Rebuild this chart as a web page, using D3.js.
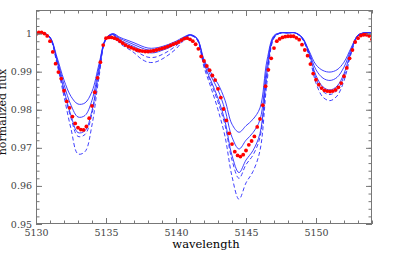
<!DOCTYPE html>
<html>
<head>
<meta charset="utf-8">
<script src="https://cdn.jsdelivr.net/npm/d3@7"></script>
<style>
  body { margin: 0; background: #fff; }
  svg { display: block; font-family: "DejaVu Serif", serif; }
</style>
</head>
<body>
<svg id="chart" width="407" height="262"></svg>
<script>
// model grid (Angstrom)
var modelWave = [5130.0, 5130.5, 5131.0, 5131.5, 5132.0, 5132.5, 5133.0, 5133.5, 5134.0, 5134.5,
                 5135.0, 5135.5, 5136.0, 5136.5, 5137.0, 5137.5, 5138.0, 5138.5, 5139.0, 5139.5,
                 5140.0, 5140.5, 5141.0, 5141.5, 5142.0, 5142.5, 5143.0, 5143.5, 5144.0, 5144.5,
                 5145.0, 5145.5, 5146.0, 5146.5, 5147.0, 5147.5, 5148.0, 5148.5, 5149.0, 5149.5,
                 5150.0, 5150.5, 5151.0, 5151.5, 5152.0, 5152.5, 5153.0, 5153.5, 5154.0];

// synthetic spectra, solid
var fluxS1 = [1.0002, 1.0002, 0.9991, 0.9938, 0.9878, 0.9835, 0.9815, 0.9818, 0.9848, 0.9920,
              0.9988, 1.0000, 0.9990, 0.9983, 0.9976, 0.9968, 0.9962, 0.9962, 0.9966, 0.9972,
              0.9980, 0.9990, 0.9997, 0.9988, 0.9932, 0.9897, 0.9868, 0.9825, 0.9762, 0.9741,
              0.9758, 0.9775, 0.9805, 0.9930, 0.9995, 1.0002, 1.0002, 1.0002, 0.9991, 0.9955,
              0.9918, 0.9903, 0.9899, 0.9905, 0.9925, 0.9962, 0.9996, 1.0002, 1.0002];
var fluxS2 = [1.0002, 1.0002, 0.9990, 0.9933, 0.9866, 0.9812, 0.9781, 0.9785, 0.9825, 0.9912,
              0.9987, 0.9999, 0.9987, 0.9979, 0.9971, 0.9963, 0.9957, 0.9957, 0.9962, 0.9968,
              0.9977, 0.9988, 0.9997, 0.9987, 0.9928, 0.9888, 0.9852, 0.9800, 0.9728, 0.9697,
              0.9720, 0.9740, 0.9774, 0.9915, 0.9993, 1.0002, 1.0002, 1.0002, 0.9990, 0.9952,
              0.9905, 0.9883, 0.9877, 0.9885, 0.9912, 0.9958, 0.9996, 1.0002, 1.0002];
var fluxS3 = [1.0002, 1.0002, 0.9989, 0.9928, 0.9852, 0.9785, 0.9740, 0.9745, 0.9798, 0.9902,
              0.9986, 0.9998, 0.9983, 0.9974, 0.9966, 0.9957, 0.9950, 0.9950, 0.9956, 0.9963,
              0.9973, 0.9986, 0.9996, 0.9986, 0.9922, 0.9876, 0.9830, 0.9770, 0.9680, 0.9635,
              0.9668, 0.9693, 0.9738, 0.9898, 0.9991, 1.0002, 1.0002, 1.0002, 0.9989, 0.9948,
              0.9890, 0.9860, 0.9852, 0.9862, 0.9895, 0.9952, 0.9995, 1.0002, 1.0002];
// synthetic spectra, dashed
var fluxD1 = [1.0002, 1.0002, 0.9989, 0.9926, 0.9848, 0.9778, 0.9730, 0.9735, 0.9790, 0.9898,
              0.9985, 0.9997, 0.9979, 0.9968, 0.9958, 0.9946, 0.9938, 0.9938, 0.9945, 0.9955,
              0.9968, 0.9983, 0.9996, 0.9985, 0.9918, 0.9870, 0.9820, 0.9760, 0.9668, 0.9620,
              0.9656, 0.9681, 0.9728, 0.9890, 0.9990, 1.0002, 1.0002, 1.0002, 0.9988, 0.9946,
              0.9882, 0.9848, 0.9840, 0.9851, 0.9888, 0.9950, 0.9995, 1.0002, 1.0002];
var fluxD2 = [1.0002, 1.0002, 0.9988, 0.9920, 0.9835, 0.9750, 0.9684, 0.9690, 0.9760, 0.9886,
              0.9984, 0.9996, 0.9974, 0.9962, 0.9950, 0.9934, 0.9925, 0.9925, 0.9933, 0.9945,
              0.9960, 0.9980, 0.9995, 0.9984, 0.9912, 0.9858, 0.9800, 0.9730, 0.9625, 0.9565,
              0.9608, 0.9638, 0.9693, 0.9872, 0.9988, 1.0002, 1.0002, 1.0002, 0.9987, 0.9942,
              0.9870, 0.9833, 0.9824, 0.9836, 0.9876, 0.9946, 0.9995, 1.0002, 1.0002];

// observed spectrum (red dots)
var obsWave = [5130.0, 5130.2, 5130.4, 5130.6, 5130.8, 5131.0, 5131.2, 5131.4, 5131.6, 5131.8,
               5132.0, 5132.2, 5132.4, 5132.6, 5132.8, 5133.0, 5133.2, 5133.4, 5133.6, 5133.8,
               5134.0, 5134.2, 5134.4, 5134.6, 5134.8, 5135.0, 5135.2, 5135.4, 5135.6, 5135.8,
               5136.0, 5136.2, 5136.4, 5136.6, 5136.8, 5137.0, 5137.2, 5137.4, 5137.6, 5137.8,
               5138.0, 5138.2, 5138.4, 5138.6, 5138.8, 5139.0, 5139.2, 5139.4, 5139.6, 5139.8,
               5140.0, 5140.2, 5140.4, 5140.6, 5140.8, 5141.0, 5141.2, 5141.4, 5141.6, 5141.8,
               5142.0, 5142.2, 5142.4, 5142.6, 5142.8, 5143.0, 5143.2, 5143.4, 5143.6, 5143.8,
               5144.0, 5144.2, 5144.4, 5144.6, 5144.8, 5145.0, 5145.2, 5145.4, 5145.6, 5145.8,
               5146.0, 5146.2, 5146.4, 5146.6, 5146.8, 5147.0, 5147.2, 5147.4, 5147.6, 5147.8,
               5148.0, 5148.2, 5148.4, 5148.6, 5148.8, 5149.0, 5149.2, 5149.4, 5149.6, 5149.8,
               5150.0, 5150.2, 5150.4, 5150.6, 5150.8, 5151.0, 5151.2, 5151.4, 5151.6, 5151.8,
               5152.0, 5152.2, 5152.4, 5152.6, 5152.8, 5153.0, 5153.2, 5153.4, 5153.6, 5153.8,
               5154.0];
var obsFlux = [0.9998, 1.0003, 1.0003, 1.0000, 0.9994, 0.9980, 0.9952, 0.9921, 0.9899, 0.9882,
               0.9850, 0.9822, 0.9805, 0.9782, 0.9764, 0.9753, 0.9748, 0.9747, 0.9756, 0.9778,
               0.9810, 0.9846, 0.9884, 0.9925, 0.9970, 0.9988, 0.9990, 0.9990, 0.9988, 0.9985,
               0.9980, 0.9975, 0.9970, 0.9966, 0.9963, 0.9960, 0.9957, 0.9955, 0.9954, 0.9953,
               0.9953, 0.9954, 0.9955, 0.9957, 0.9959, 0.9961, 0.9963, 0.9966, 0.9969, 0.9972,
               0.9975, 0.9978, 0.9983, 0.9987, 0.9988, 0.9985, 0.9980, 0.9972, 0.9960, 0.9940,
               0.9928, 0.9915, 0.9904, 0.9890, 0.9878, 0.9855, 0.9832, 0.9802, 0.9772, 0.9738,
               0.9710, 0.9690, 0.9680, 0.9677, 0.9682, 0.9693, 0.9708, 0.9718, 0.9730, 0.9755,
               0.9776, 0.9812, 0.9862, 0.9905, 0.9935, 0.9962, 0.9980, 0.9986, 0.9990, 0.9992,
               0.9993, 0.9993, 0.9993, 0.9989, 0.9984, 0.9971, 0.9957, 0.9942, 0.9920, 0.9895,
               0.9879, 0.9866, 0.9857, 0.9851, 0.9849, 0.9848, 0.9849, 0.9852, 0.9859, 0.9870,
               0.9888, 0.9910, 0.9935, 0.9957, 0.9978, 0.9988, 0.9995, 0.9997, 0.9997, 0.9994,
               0.9985];

var xMajor = [5130, 5135, 5140, 5145, 5150];
var yMajor = [0.95, 0.96, 0.97, 0.98, 0.99, 1];

var mLeft = 36, mRight = 372, mTop = 10, mBottom = 224;

var x = d3.scaleLinear().domain([5130, 5154]).range([mLeft, mRight]);
var y = d3.scaleLinear().domain([0.95, 1.0062]).range([mBottom, mTop]);

var svg = d3.select("#chart");

svg.append("clipPath").attr("id", "clip")
    .append("rect")
    .attr("x", mLeft).attr("y", mTop)
    .attr("width", mRight - mLeft).attr("height", mBottom - mTop);

var plot = svg.append("g").attr("clip-path", "url(#clip)");

var line = d3.line()
    .x(function (d, i) { return x(modelWave[i]); })
    .y(function (d) { return y(d); })
    .curve(d3.curveCatmullRom.alpha(0.5));

var models = [
    {values: fluxD2, dash: "4,2.5"},
    {values: fluxD1, dash: "4,2.5"},
    {values: fluxS3, dash: null},
    {values: fluxS2, dash: null},
    {values: fluxS1, dash: null}
];

models.forEach(function (m) {
    plot.append("path")
        .datum(m.values)
        .attr("d", line)
        .attr("fill", "none")
        .attr("stroke", "#2a2aff")
        .attr("stroke-width", 0.9)
        .attr("stroke-dasharray", m.dash);
});

plot.selectAll("circle.obs")
    .data(obsFlux)
    .join("circle")
    .attr("class", "obs")
    .attr("cx", function (d, i) { return x(obsWave[i]); })
    .attr("cy", function (d) { return y(d); })
    .attr("r", 1.9)
    .attr("fill", "#ff0000");

// axes: ticks inward on all four sides
var xMinor = d3.range(5130, 5154.5, 1);
var yMinor = d3.range(0.95, 1.0065, 0.002);

function style(g) {
    g.select(".domain").remove();
    g.selectAll(".tick line").attr("stroke", "#777");
    g.selectAll(".tick text").attr("fill", "#444").style("font-size", "9.5px")
        .style("font-family", "'DejaVu Serif', serif");
}

svg.append("g").attr("transform", "translate(0," + mBottom + ")")
    .call(d3.axisBottom(x).tickValues(xMinor).tickSize(-3.5).tickFormat("")).call(style);
svg.append("g").attr("transform", "translate(0," + mBottom + ")")
    .call(d3.axisBottom(x).tickValues(xMajor).tickSize(-6).tickPadding(5).tickFormat(d3.format("d"))).call(style);
svg.append("g").attr("transform", "translate(0," + mTop + ")")
    .call(d3.axisTop(x).tickValues(xMinor).tickSize(-3.5).tickFormat("")).call(style);
svg.append("g").attr("transform", "translate(0," + mTop + ")")
    .call(d3.axisTop(x).tickValues(xMajor).tickSize(-6).tickFormat("")).call(style);

svg.append("g").attr("transform", "translate(" + mLeft + ",0)")
    .call(d3.axisLeft(y).tickValues(yMinor).tickSize(-3.5).tickFormat("")).call(style);
svg.append("g").attr("transform", "translate(" + mLeft + ",0)")
    .call(d3.axisLeft(y).tickValues(yMajor).tickSize(-6).tickPadding(4).tickFormat(d3.format("~g"))).call(style);
svg.append("g").attr("transform", "translate(" + mRight + ",0)")
    .call(d3.axisRight(y).tickValues(yMinor).tickSize(-3.5).tickFormat("")).call(style);
svg.append("g").attr("transform", "translate(" + mRight + ",0)")
    .call(d3.axisRight(y).tickValues(yMajor).tickSize(-6).tickFormat("")).call(style);

svg.append("rect")
    .attr("x", mLeft + 0.5).attr("y", mTop + 0.5)
    .attr("width", mRight - mLeft - 1).attr("height", mBottom - mTop - 1)
    .attr("fill", "none").attr("stroke", "#777");

svg.append("text")
    .attr("x", (mLeft + mRight) / 2 + 2).attr("y", 248)
    .attr("text-anchor", "middle")
    .attr("fill", "#000")
    .style("font-size", "11.5px")
    .text("wavelength");

svg.append("text")
    .attr("transform", "translate(5.5," + ((mTop + mBottom) / 2 - 5) + ") rotate(-90)")
    .attr("text-anchor", "middle")
    .attr("fill", "#111")
    .style("font-size", "11px")
    .text("normalized flux");
</script>
</body>
</html>
